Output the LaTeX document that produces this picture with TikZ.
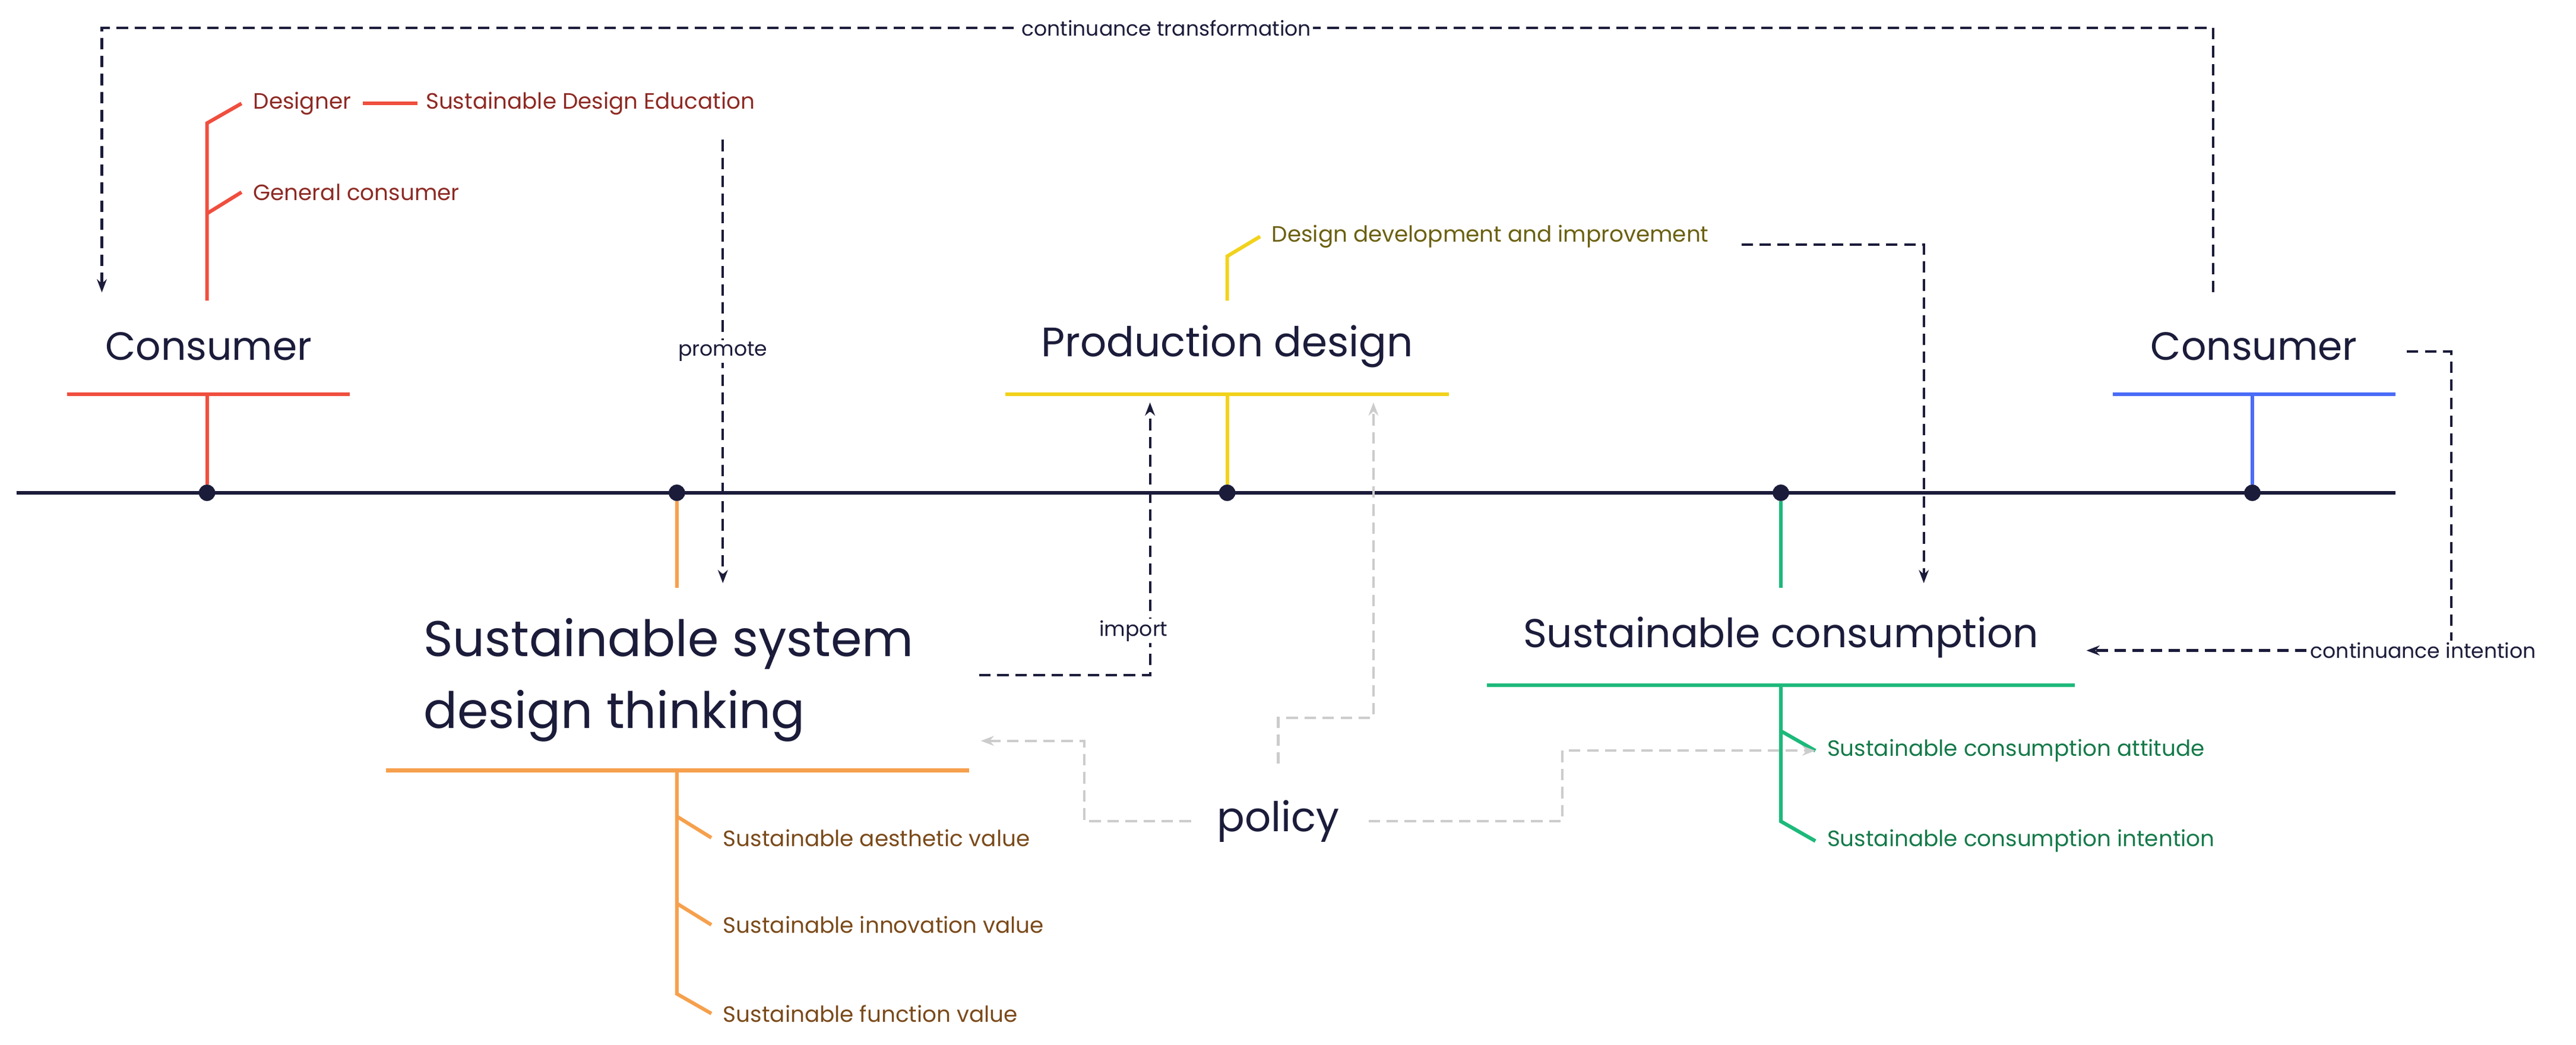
\documentclass[tikz,border=0pt]{standalone}
\usepackage{fontspec}
\setmainfont{Poppins}
\usetikzlibrary{arrows.meta}
\definecolor{navy}{HTML}{1B1B3A}
\definecolor{cred}{HTML}{F04E3E}\definecolor{tred}{HTML}{8E2A24}
\definecolor{corg}{HTML}{F6A04D}\definecolor{torg}{HTML}{7A4A1A}
\definecolor{cyel}{HTML}{F2D21B}\definecolor{tyel}{HTML}{6B6010}
\definecolor{cgrn}{HTML}{1DB97A}\definecolor{tgrn}{HTML}{157A4A}
\definecolor{cblu}{HTML}{4A6CF7}\definecolor{cgry}{HTML}{CCCCCC}
\begin{document}
\begin{tikzpicture}[x=1pt,y=-1pt,
 big/.style={font=\fontsize{24}{26}\selectfont,text=navy},
 lab/.style={font=\fontsize{13.5}{15}\selectfont,anchor=west,inner sep=1pt},
 small/.style={font=\fontsize{12.5}{14}\selectfont,text=navy,fill=white,inner sep=1pt},
 ln/.style={line width=2.2pt},
 dsh/.style={navy,line width=1.5pt,dash pattern=on 7pt off 4pt,-{Stealth[length=8pt,width=6pt]}},
 gdsh/.style={cgry,line width=1.5pt,dash pattern=on 7pt off 4pt,-{Stealth[length=8pt,width=6pt]}},
 dot/.style={circle,fill=navy,inner sep=0,minimum size=10pt}]
\useasboundingbox (0,0) rectangle (1568,636);
% main line
\coordinate (L0) at (10,300); \coordinate (L1) at (1458,300);
\draw[navy,line width=2.4pt] (L0)--(L1);
\node[dot] (d1) at (126,300){}; \node[dot] (d2) at (412,300){};
\node[dot] (d3) at (747,300){}; \node[dot] (d4) at (1084,300){};
\node[dot] (d5) at (1371,300){};
% Consumer left
\node[big] (c1) at (127,211){Consumer};
\draw[cred,ln] (41,240)--(213,240); \draw[cred,ln] (126,240)--(d1);
\draw[cred,ln] (126,183)--(126,75)--(147,63);
\draw[cred,ln] (126,130)--(147,117);
\node[lab,text=tred] (des) at (153,63){Designer};
\node[lab,text=tred] (sde) at (258,63){Sustainable Design Education};
\draw[cred,ln,shorten <=6pt,shorten >=4pt] (des.east)--(sde.west);
\node[lab,text=tred] (gc) at (153,117){General consumer};
% Production design
\node[big,font=\fontsize{25}{27}\selectfont] (pd) at (747,211){Production design};
\draw[cyel,ln] (612,240)--(882,240); \draw[cyel,ln] (747,240)--(d3);
\draw[cyel,ln] (747,183)--(747,156)--(767,144);
\node[lab,text=tyel] (ddi) at (773,144){Design development and improvement};
% Consumer right
\node[big] (c2) at (1372,211){Consumer};
\draw[cblu,ln] (1286,240)--(1458,240); \draw[cblu,ln] (1371,240)--(d5);
% Sustainable system
\draw[corg,ln] (d2)--(412,358);
\node[font=\fontsize{30.5}{44}\selectfont,text=navy,align=left] (ssd) at (407,414){Sustainable system\\design thinking};
\draw[corg,ln] (235,469)--(590,469);
\draw[corg,ln] (412,469)--(412,605)--(433,617);
\draw[corg,ln] (412,497)--(433,510); \draw[corg,ln] (412,550)--(433,563);
\node[lab,text=torg] (sa) at (439,510){Sustainable aesthetic value};
\node[lab,text=torg] (si) at (439,563){Sustainable innovation value};
\node[lab,text=torg] (sf) at (439,617){Sustainable function value};
% Sustainable consumption
\draw[cgrn,ln] (d4)--(1084,358);
\node[font=\fontsize{24.5}{27}\selectfont,text=navy] (sc) at (1084,388){Sustainable consumption};
\draw[cgrn,ln] (905,417)--(1263,417);
\draw[cgrn,ln] (1084,417)--(1084,500)--(1105,512);
\draw[cgrn,ln] (1084,445)--(1105,457);
\node[lab,text=tgrn] (sca) at (1111,457){Sustainable consumption attitude};
\node[lab,text=tgrn] (sci) at (1111,512){Sustainable consumption intention};
% policy
\node[font=\fontsize{25}{27}\selectfont,text=navy] (pol) at (778,500){policy};
% navy dashed
\coordinate (ct1) at (1347,178); \coordinate (ct2) at (62,178);
\draw[dsh] (ct1)--(1347,17)--(62,17)--(ct2);
\node[small] (ctl) at (710,17){continuance transformation};
\coordinate (pr1) at (440,85); \coordinate (pr2) at (440,355);
\draw[dsh] (pr1)--(pr2);
\node[small] (prl) at (440,214){promote};
\coordinate (im1) at (596,411); \coordinate (im2) at (700,245);
\draw[dsh] (im1)--(700,411)--(im2);
\node[small] (iml) at (690,384){import};
\coordinate (dd1) at (1060,149); \coordinate (dd2) at (1171,355);
\draw[dsh] (dd1)--(1171,149)--(dd2);
\coordinate (ci1) at (1465,214); \coordinate (ci2) at (1270,396);
\draw[dsh] (ci1)--(1492,214)--(1492,396)--(ci2);
\node[small] (cil) at (1475,396){continuance intention};
% grey dashed
\coordinate (g1) at (597,451); \coordinate (g2) at (836,245); \coordinate (g3) at (1105,457);
\draw[gdsh] (725,500)--(660,500)--(660,451)--(g1);
\draw[gdsh] (778,465)--(778,437)--(836,437)--(g2);
\draw[gdsh] (833,500)--(951,500)--(951,457)--(g3);
\end{tikzpicture}
\end{document}
